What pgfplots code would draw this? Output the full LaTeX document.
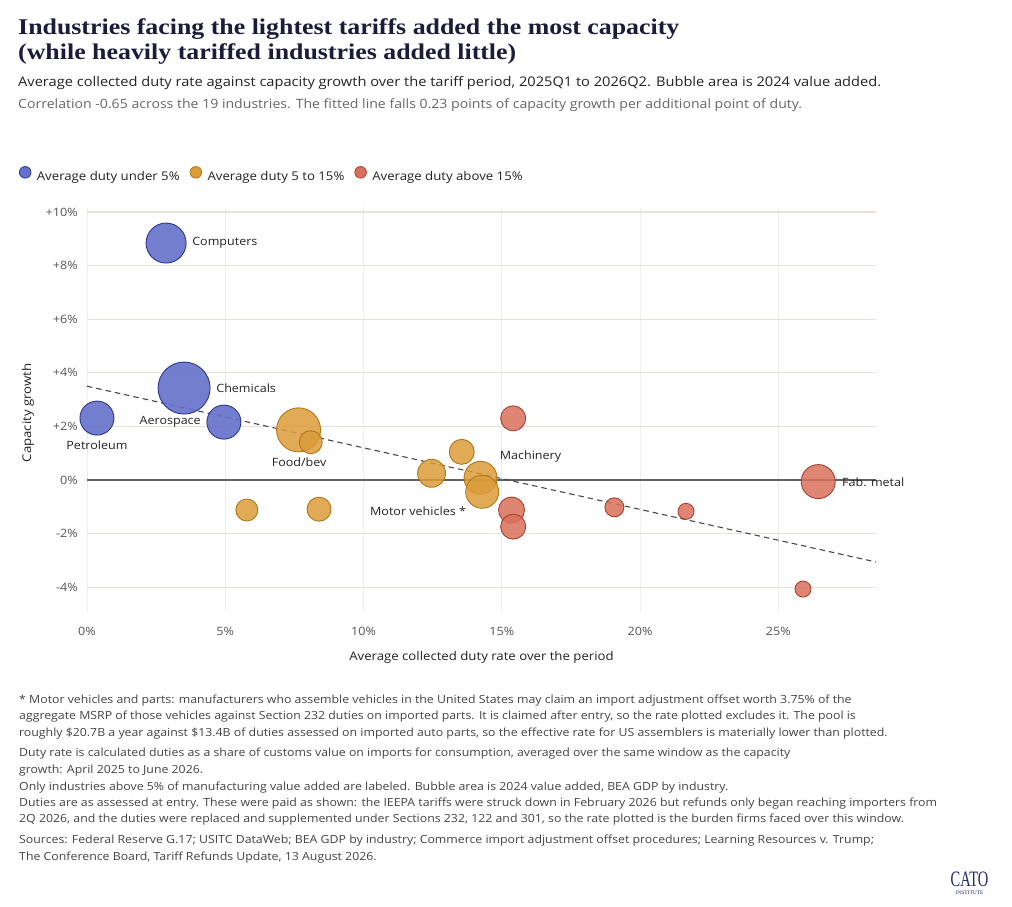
\documentclass[border=0pt]{standalone}
\usepackage{pgfplots}
\usepackage{pgfplotstable}
\pgfplotsset{compat=1.18}
\usepackage{fontspec}
\setmainfont{Open Sans}[FakeStretch=1.1]
\newfontfamily\titlefont{Liberation Serif}[FakeStretch=1.15]
\newfontfamily\logofont{Liberation Serif}
\definecolor{blueF}{HTML}{6470C9}
\definecolor{blueD}{HTML}{2B3794}
\definecolor{orgF}{HTML}{DB9B3A}
\definecolor{orgD}{HTML}{B27716}
\definecolor{redF}{HTML}{D8705C}
\definecolor{redD}{HTML}{A9402F}
\definecolor{titlec}{HTML}{1B1B3A}
\definecolor{subc}{HTML}{222222}
\definecolor{sub2c}{HTML}{666666}
\definecolor{footc}{HTML}{444444}
\definecolor{tickc}{HTML}{555555}
\definecolor{hgrid}{HTML}{E6E2DA}
\definecolor{vgrid}{HTML}{EFEDE9}
\definecolor{catoc}{HTML}{1F2A6B}

\pgfplotstableread{
x y r
2.86 8.84 20
3.51 3.43 26
0.36 2.31 17
4.95 2.16 17
}\bluedata
\pgfplotstableread{
x y r
7.65 1.87 22
8.09 1.41 11.5
13.55 1.05 12.5
12.46 0.25 14
14.23 0.08 16.5
14.29 -0.44 16.5
5.78 -1.12 11
8.39 -1.09 12
}\orgdata
\pgfplotstableread{
x y r
15.41 2.30 12.5
26.44 -0.06 17
19.07 -1.02 9.5
21.66 -1.17 8
15.35 -1.12 13
15.41 -1.74 12.5
25.89 -4.07 8
}\reddata

\begin{document}
\begin{tikzpicture}[x=1pt,y=1pt]
\path[use as bounding box] (0pt,0pt) rectangle (1012pt,-906pt);

\node[anchor=base west, inner sep=0pt, font=\titlefont\bfseries\fontsize{22.5}{26}\selectfont, text=titlec] at (18pt,-34pt) {Industries facing the lightest tariffs added the most capacity};
\node[anchor=base west, inner sep=0pt, font=\titlefont\bfseries\fontsize{22.5}{26}\selectfont, text=titlec] at (18pt,-59.5pt) {(while heavily tariffed industries added little)};
\node[anchor=base west, inner sep=0pt, font=\fontsize{13.3}{15}\selectfont, text=subc] at (18pt,-86pt) {Average collected duty rate against capacity growth over the tariff period, 2025Q1 to 2026Q2. Bubble area is 2024 value added.};
\node[anchor=base west, inner sep=0pt, font=\fontsize{12.8}{14}\selectfont, text=sub2c] at (18pt,-108.3pt) {Correlation -0.65 across the 19 industries. The fitted line falls 0.23 points of capacity growth per additional point of duty.};

\begin{axis}[
  at={(87pt,-611.3pt)}, anchor=south west,
  scale only axis, width=789pt, height=404.7pt,
  xmin=0, xmax=28.53, ymin=-4.9, ymax=10.2,
  clip=false,
  axis line style={draw=none},
  major tick length=0pt,
  xtick={0,5,10,15,20,25},
  xticklabels={0\%,5\%,10\%,15\%,20\%,25\%},
  ytick={-4,-2,0,2,4,6,8,10},
  yticklabels={-4\%,-2\%,0\%,+2\%,+4\%,+6\%,+8\%,+10\%},
  xmajorgrids, ymajorgrids,
  x grid style={color=vgrid, line width=0.8pt},
  y grid style={color=hgrid, line width=1.1pt},
  tick label style={font=\fontsize{11.5}{13}\selectfont, text=tickc},
  yticklabel style={anchor=east, inner sep=0pt, xshift=-9pt},
  xticklabel style={anchor=north, inner sep=0pt, yshift=-16pt},
  xlabel={Average collected duty rate over the period},
  ylabel={Capacity growth},
  label style={font=\fontsize{12}{14}\selectfont, text=subc},
  xlabel style={at={(axis description cs:0.5,-0.1137)}, anchor=center, inner sep=0pt},
  ylabel style={at={(axis description cs:-0.0748,0.49)}, anchor=center, inner sep=0pt, rotate=0},
  legend image code/.code={\draw[#1, line width=0.8pt] (6pt,4.2pt) circle (5.8pt);},
  legend style={at={(axis description cs:-0.0862,1.0806)}, anchor=west, draw=none, fill=none,
    inner sep=0pt, outer sep=0pt, font=\fontsize{12}{14}\selectfont, text=subc,
    legend columns=-1,
    /tikz/every odd column/.append style={column sep=5.5pt},
    /tikz/every even column/.append style={column sep=10pt},
    nodes={inner sep=0pt}},
  legend cell align=left,
]
\addlegendimage{draw=blueD, fill=blueF}
\addlegendentry{Average duty under 5\%}
\addlegendimage{draw=orgD, fill=orgF}
\addlegendentry{Average duty 5 to 15\%}
\addlegendimage{draw=redD, fill=redF}
\addlegendentry{Average duty above 15\%}

\addplot[forget plot, color=black!62, line width=1.1pt] coordinates {(0,0) (28.53,0)};

\addplot[forget plot, scatter, only marks, mark=*,
  scatter/use mapped color={draw=blueD, fill=blueF, fill opacity=0.9},
  line width=0.9pt,
  visualization depends on={\thisrow{r} \as \rad},
  scatter/@pre marker code/.append style={/tikz/mark size=\rad pt}]
  table[x=x,y=y] {\bluedata};
\addplot[forget plot, scatter, only marks, mark=*,
  scatter/use mapped color={draw=orgD, fill=orgF, fill opacity=0.85},
  line width=0.9pt,
  visualization depends on={\thisrow{r} \as \rad},
  scatter/@pre marker code/.append style={/tikz/mark size=\rad pt}]
  table[x=x,y=y] {\orgdata};
\addplot[forget plot, scatter, only marks, mark=*,
  scatter/use mapped color={draw=redD, fill=redF, fill opacity=0.85},
  line width=0.9pt,
  visualization depends on={\thisrow{r} \as \rad},
  scatter/@pre marker code/.append style={/tikz/mark size=\rad pt}]
  table[x=x,y=y] {\reddata};

\addplot[forget plot, color=black!72, line width=1.1pt, dash pattern=on 5.5pt off 4pt] coordinates {(0,3.50) (28.53,-3.06)};

\begin{scope}[every node/.style={font=\fontsize{11.4}{13}\selectfont, text=subc, inner sep=0pt}]
\node[anchor=west] at (axis cs:3.80,8.84) {Computers};
\node[anchor=west] at (axis cs:4.67,3.43) {Chemicals};
\node[anchor=east] at (axis cs:4.12,2.18) {Aerospace};
\node[anchor=center] at (axis cs:0.36,1.28) {Petroleum};
\node[anchor=center] at (axis cs:7.67,0.67) {Food/bev};
\node[anchor=west] at (axis cs:14.92,0.87) {Machinery};
\node[anchor=east] at (axis cs:13.71,-1.18) {Motor vehicles *};
\node[anchor=west] at (axis cs:27.3,-0.07) {Fab. metal};
\end{scope}
\end{axis}

\begin{scope}[every node/.style={anchor=base west, inner sep=0pt, font=\fontsize{11.2}{13}\selectfont, text=footc}]
\node at (19pt,-703pt) {* Motor vehicles and parts: manufacturers who assemble vehicles in the United States may claim an import adjustment offset worth 3.75\% of the};
\node at (19pt,-719.5pt) {aggregate MSRP of those vehicles against Section 232 duties on imported parts. It is claimed after entry, so the rate plotted excludes it. The pool is};
\node at (19pt,-736pt) {roughly \$20.7B a year against \$13.4B of duties assessed on imported auto parts, so the effective rate for US assemblers is materially lower than plotted.};
\node at (19pt,-756pt) {Duty rate is calculated duties as a share of customs value on imports for consumption, averaged over the same window as the capacity};
\node at (19pt,-773pt) {growth: April 2025 to June 2026.};
\node at (19pt,-790pt) {Only industries above 5\% of manufacturing value added are labeled. Bubble area is 2024 value added, BEA GDP by industry.};
\node at (19pt,-806pt) {Duties are as assessed at entry. These were paid as shown: the IEEPA tariffs were struck down in February 2026 but refunds only began reaching importers from};
\node at (19pt,-822.5pt) {2Q 2026, and the duties were replaced and supplemented under Sections 232, 122 and 301, so the rate plotted is the burden firms faced over this window.};
\node at (19pt,-843pt) {Sources: Federal Reserve G.17; USITC DataWeb; BEA GDP by industry; Commerce import adjustment offset procedures; Learning Resources v. Trump;};
\node at (19pt,-860pt) {The Conference Board, Tariff Refunds Update, 13 August 2026.};
\end{scope}

\node[anchor=base, inner sep=0pt, text=catoc, font=\logofont\fontsize{22}{22}\selectfont] at (969.5pt,-886.5pt) {\scalebox{0.66}[1]{CATO}};
\node[anchor=base, inner sep=0pt, text=catoc, font=\logofont\fontsize{5.5}{6}\selectfont] at (969.5pt,-894.5pt) {INSTITUTE};
\end{tikzpicture}
\end{document}
